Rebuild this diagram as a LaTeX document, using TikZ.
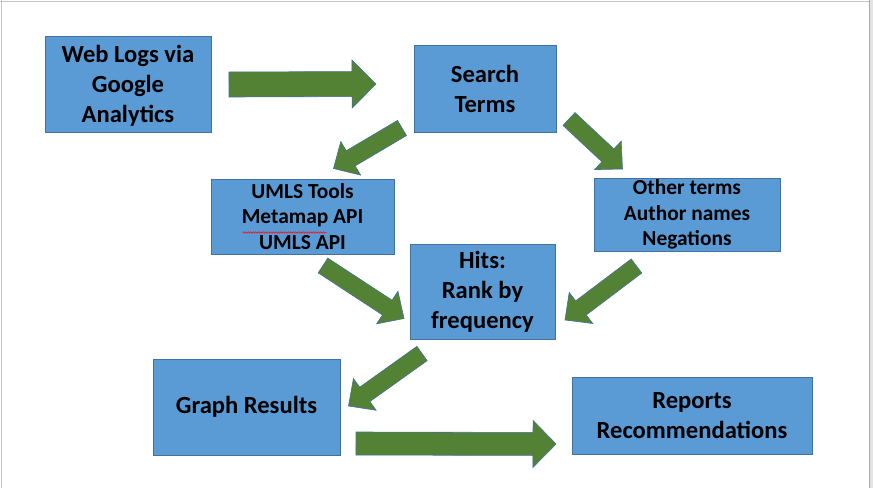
\documentclass[tikz,border=0pt]{standalone}
\usepackage{fontspec}
\setmainfont{Carlito}
\usetikzlibrary{calc,decorations.pathmorphing}
\definecolor{boxblue}{HTML}{5B9BD5}
\definecolor{boxedge}{HTML}{41719C}
\definecolor{arrgreen}{HTML}{548235}
\definecolor{framegray}{HTML}{C4C4C4}
\definecolor{frameside}{HTML}{E4E4E4}
\tikzset{
  diagbox/.style={draw=boxedge, fill=boxblue, line width=0.9pt, inner sep=0pt, align=center, text=black},
  bigtext/.style={font=\fontsize{24.6pt}{30pt}\selectfont\bfseries},
  smalltext/.style={font=\fontsize{21.4pt}{25.5pt}\selectfont\bfseries},
  arrowstyle/.style={fill=arrgreen, draw=boxedge, line width=0.6pt, line join=miter},
}
% tail, tip, shaft half width, head half width, head length
\newcommand{\blockarrow}[5]{%
  \coordinate (ba) at ($(#2)!#5!(#1)$);
  \draw[arrowstyle] ($(#1)!#3!90:(#2)$) -- ($(ba)!#3!90:(#2)$) -- ($(ba)!#4!90:(#2)$) -- (#2)
    -- ($(ba)!#4!-90:(#2)$) -- ($(ba)!#3!-90:(#2)$) -- ($(#1)!#3!-90:(#2)$) -- cycle;
}
\begin{document}
\begin{tikzpicture}[x=1pt,y=-1pt]
\useasboundingbox (0,0) rectangle (873,488);
\fill[white] (0,0) rectangle (873,488);
\fill[frameside] (869,0) rectangle (873,488);
\draw[framegray, line width=1pt] (0,1) -- (869,1);
\draw[framegray, line width=1pt] (1,0) -- (1,488);
\draw[framegray!85!black, line width=1pt] (869.5,0) -- (869.5,488);

% boxes
\node[diagbox, minimum width=166pt, minimum height=96pt] (web) at (128,84) {};
\node[bigtext, align=center] (webtext) at ($(web.center)+(0,1.5)$) {Web Logs via\\Google\\Analytics};
\node[diagbox, bigtext, minimum width=142pt, minimum height=87pt] (search) at (485,88.5) {Search\\Terms};
\node[diagbox, smalltext, minimum width=183pt, minimum height=75pt] (umls) at (302.5,216.5) {UMLS Tools\\Metamap API\\UMLS API};
\node[diagbox, smalltext, minimum width=186pt, minimum height=73pt] (other) at (687,214.5) {Other terms\\Author names\\Negations};
\node[diagbox, bigtext, minimum width=145pt, minimum height=95pt] (hits) at (482.5,291.5) {Hits:\\Rank by\\frequency};
\node[diagbox, bigtext, minimum width=187pt, minimum height=96pt] (graph) at (246.5,407) {Graph Results};
\node[diagbox, bigtext, minimum width=240pt, minimum height=77pt] (reports) at (692,415.5) {Reports\\Recommendations};

% spell-check underline
\draw[red, line width=0.5pt, decorate, decoration={snake, amplitude=0.7pt, segment length=2.5pt}]
  ($(umls.center)+(-60,16)$) -- ($(umls.center)+(24,16)$);

% arrows
\coordinate (a1s) at (229,84.5);   \coordinate (a1e) at (376,84);
\coordinate (a2s) at (402,128);    \coordinate (a2e) at (333.5,168.5);
\coordinate (a3s) at (569,119);    \coordinate (a3e) at (622.5,169);
\coordinate (a4s) at (323,265.5);  \coordinate (a4e) at (404,318.5);
\coordinate (a5s) at (636.5,266);  \coordinate (a5e) at (565,320);
\coordinate (a6s) at (422,353.5);  \coordinate (a6e) at (348.5,406);
\coordinate (a7s) at (356,443.5);  \coordinate (a7e) at (556,444);
\blockarrow{a1s}{a1e}{12.5pt}{24pt}{24pt}
\blockarrow{a2s}{a2e}{8.8pt}{19.5pt}{20pt}
\blockarrow{a3s}{a3e}{8.8pt}{19.5pt}{20pt}
\blockarrow{a4s}{a4e}{8.8pt}{19.5pt}{20pt}
\blockarrow{a5s}{a5e}{8.8pt}{19.5pt}{20pt}
\blockarrow{a6s}{a6e}{8.8pt}{19.5pt}{20pt}
\blockarrow{a7s}{a7e}{11.5pt}{23.5pt}{23pt}
\end{tikzpicture}
\end{document}
